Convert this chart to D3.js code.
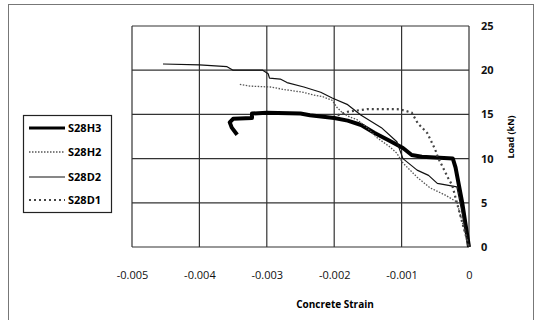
<!DOCTYPE html>
<html>
<head>
<meta charset="utf-8">
<script src="https://cdn.jsdelivr.net/npm/d3@7"></script>
<style>
  body { margin: 0; background: #fff; }
  svg { display: block; font-family: "Open Sans", "DejaVu Sans", sans-serif; }
</style>
</head>
<body>
<div id="chart"></div>
<script>
// Load vs concrete strain, four specimens

// data: [strain, load kN]
var s28h3 = [[-0.00344,12.7],[-0.00352,13.5],[-0.00355,14.1],[-0.00350,14.5],[-0.00322,14.6],
  [-0.00322,15.1],[-0.0030,15.2],[-0.0025,15.1],[-0.00236,14.9],[-0.0020,14.6],[-0.0018,14.3],
  [-0.0016,13.8],[-0.0014,12.9],[-0.0012,12.1],[-0.00098,11.2],[-0.00085,10.4],[-0.0007,10.2],
  [-0.00024,10.0],[-0.0002,9.0],[-0.0001,5.0],[0,0]];
var s28h2 = [[-0.0034,18.4],[-0.00325,18.2],[-0.00295,18.1],[-0.00273,17.8],[-0.00246,17.5],
  [-0.00231,17.2],[-0.00217,17.0],[-0.00203,16.6],[-0.00196,15.8],[-0.00188,15.2],[-0.00177,14.7],
  [-0.00166,14.4],[-0.00151,13.5],[-0.00137,12.4],[-0.00117,11.3],[-0.00107,10.6],[-0.00098,9.5],
  [-0.00077,7.9],[-0.00058,6.7],[-0.00036,5.9],[-0.00018,5.1],[0,0]];
var s28d2 = [[-0.00454,20.7],[-0.0040,20.6],[-0.00359,20.4],[-0.0035,20.0],[-0.00306,20.0],
  [-0.00298,19.6],[-0.00296,19.1],[-0.0028,19.0],[-0.0027,18.6],[-0.00245,18.1],[-0.0022,17.5],
  [-0.00203,16.85],[-0.0018,16.1],[-0.0016,14.9],[-0.0013,13.5],[-0.00107,11.9],[-0.00098,10.0],
  [-0.00077,8.7],[-0.0006,8.1],[-0.00047,7.2],[-0.00018,6.8],[0,0]];
var s28d1 = [[-0.00195,14.9],[-0.0018,15.3],[-0.0016,15.5],[-0.00151,15.6],[-0.00107,15.6],
  [-0.00099,15.5],[-0.00085,15.2],[-0.00076,14.0],[-0.00062,12.9],[-0.00055,11.8],[-0.0005,11.0],
  [-0.00046,10.1],[-0.0004,9.2],[-0.00031,7.8],[-0.00025,7.0],[-0.00013,3.6],[0,0]];

var seriesNames = ["S28H3", "S28H2", "S28D2", "S28D1"];
var seriesData = [s28h3, s28h2, s28d2, s28d1];
var xTicks = [-0.005, -0.004, -0.003, -0.002, -0.001, 0];
var xTickLabels = ["-0.005", "-0.004", "-0.003", "-0.002", "-0.001", "0"];
var yTicks = [0, 5, 10, 15, 20, 25];

// line looks per series
var looks = {
  S28H3: { stroke: "#000", width: 4, dash: null },
  S28H2: { stroke: "#555", width: 1.3, dash: "1.5,1.5" },
  S28D2: { stroke: "#111", width: 1.2, dash: null },
  S28D1: { stroke: "#444", width: 2.2, dash: "2,3" }
};

var svgWidth = 541, svgHeight = 320;
var plot = { left: 132, right: 469, top: 26, bottom: 247 };

var svg = d3.select("#chart").append("svg")
  .attr("width", svgWidth)
  .attr("height", svgHeight);

// chart frame
svg.append("rect")
  .attr("x", 8.5).attr("y", 4.5)
  .attr("width", 525).attr("height", 320)
  .attr("fill", "none").attr("stroke", "#777").attr("stroke-width", 1);

var x = d3.scaleLinear().domain([-0.005, 0]).range([plot.left, plot.right]);
var y = d3.scaleLinear().domain([0, 25]).range([plot.bottom, plot.top]);

// gridlines
svg.append("g").selectAll("line")
  .data(xTicks).enter().append("line")
  .attr("x1", d => x(d)).attr("x2", d => x(d))
  .attr("y1", plot.top).attr("y2", plot.bottom)
  .attr("stroke", "#333").attr("stroke-width", 1.2);
svg.append("g").selectAll("line")
  .data(yTicks).enter().append("line")
  .attr("y1", d => y(d)).attr("y2", d => y(d))
  .attr("x1", plot.left).attr("x2", plot.right)
  .attr("stroke", "#333").attr("stroke-width", 1.2);

// x tick labels (no tick marks), plain hyphen like the original
var xAxis = svg.append("g")
  .attr("transform", "translate(0," + plot.bottom + ")")
  .call(d3.axisBottom(x).tickValues(xTicks).tickSize(0).tickPadding(24)
    .tickFormat((d, i) => xTickLabels[i]));
xAxis.select(".domain").remove();
xAxis.selectAll("text").attr("font-size", 11).attr("fill", "#111")
  .attr("font-family", "'Open Sans', sans-serif");

// y tick labels on the right
var yAxis = svg.append("g")
  .attr("transform", "translate(" + plot.right + ",0)")
  .call(d3.axisRight(y).tickValues(yTicks).tickSize(0).tickPadding(12));
yAxis.select(".domain").remove();
yAxis.selectAll("text").attr("font-size", 11).attr("font-weight", "bold").attr("fill", "#111")
  .attr("font-family", "'Open Sans', sans-serif");

// axis titles
svg.append("text")
  .attr("x", 335).attr("y", 308)
  .attr("text-anchor", "middle")
  .attr("font-size", 10).attr("font-weight", "bold")
  .text("Concrete Strain");

svg.append("text")
  .attr("transform", "translate(514,137) rotate(-90)")
  .attr("text-anchor", "middle")
  .attr("font-size", 9).attr("font-weight", "bold")
  .text("Load (kN)");

// series
var line = d3.line().x(d => x(d[0])).y(d => y(d[1]));
seriesNames.forEach(function(name, i) {
  var lk = looks[name];
  svg.append("path")
    .datum(seriesData[i])
    .attr("d", line)
    .attr("fill", "none")
    .attr("stroke", lk.stroke)
    .attr("stroke-width", lk.width)
    .attr("stroke-dasharray", lk.dash)
    .attr("stroke-linejoin", "round");
});

// legend
var legend = svg.append("g");
legend.append("rect")
  .attr("x", 23.5).attr("y", 115.5).attr("width", 88).attr("height", 97)
  .attr("fill", "#fff").attr("stroke", "#222").attr("stroke-width", 1.2);
var rows = [128, 152, 177, 200];
seriesNames.forEach(function(name, i) {
  var lk = looks[name];
  legend.append("line")
    .attr("x1", 29).attr("x2", 65)
    .attr("y1", rows[i]).attr("y2", rows[i])
    .attr("stroke", lk.stroke)
    .attr("stroke-width", Math.min(lk.width, 3))
    .attr("stroke-dasharray", lk.dash);
  legend.append("text")
    .attr("x", 68).attr("y", rows[i] + 4)
    .attr("font-size", 11).attr("font-weight", "bold")
    .text(name);
});
</script>
</body>
</html>
